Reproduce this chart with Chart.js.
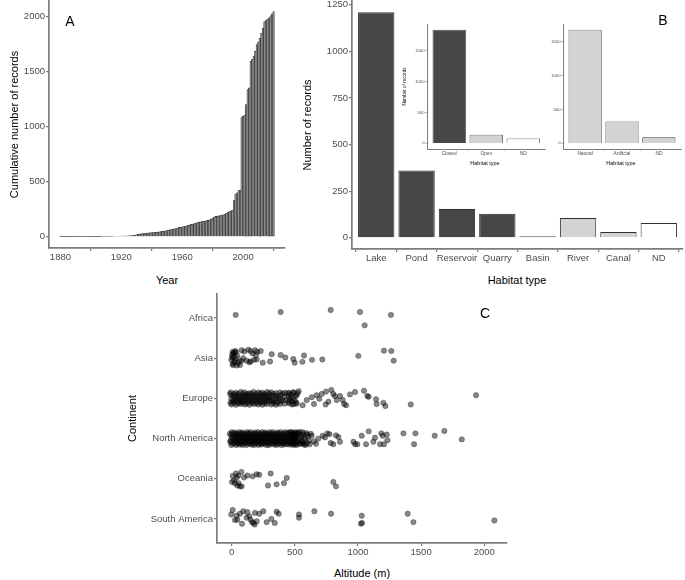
<!DOCTYPE html>
<html lang="en">
<head>
<meta charset="UTF-8">
<title>Records overview</title>
<script src="https://cdn.jsdelivr.net/npm/chart.js"></script>
<style>
  body { margin: 0; background: #fff; }
  #fig { position: relative; width: 685px; height: 580px; background: #fff; overflow: hidden;
         font-family: "Liberation Sans", Arial, sans-serif; }
  #fig canvas { position: absolute; }
  .lbl { position: absolute; white-space: nowrap; color: #000; line-height: 1;
         transform: translate(-50%, -50%); }
</style>
</head>
<body>
<div id="fig">
  <canvas id="chartA" width="290" height="265" style="left:0;top:0"></canvas>
  <canvas id="chartB" width="385" height="265" style="left:300px;top:0"></canvas>
  <canvas id="inset1" width="155" height="140" style="left:395px;top:18px"></canvas>
  <canvas id="inset2" width="145" height="140" style="left:540px;top:18px"></canvas>
  <canvas id="chartC" width="415" height="270" style="left:100px;top:290px"></canvas>

  <div class="lbl" style="left:167px;top:280px;font-size:11px">Year</div>
  <div class="lbl" style="left:70px;top:21px;font-size:14px">A</div>

  <div class="lbl" style="left:517px;top:280px;font-size:11px">Habitat type</div>
  <div class="lbl" style="left:663px;top:20px;font-size:14px">B</div>
  <div class="lbl" style="left:485px;top:164px;font-size:5.5px">Habitat type</div>
  <div class="lbl" style="left:621px;top:164px;font-size:5.5px">Habitat type</div>

  <div class="lbl" style="left:362px;top:573px;font-size:11px">Altitude (m)</div>
  <div class="lbl" style="left:485px;top:313px;font-size:14px">C</div>
</div>

<script>
// ---- panel A: cumulative records per year (1880 - 2020)
const startYear = 1880;
const cumulativeRecords = [
  1, 1, 1, 1, 1, 1, 1, 1, 1, 1,
  1, 1, 1, 1, 1, 1, 1, 1, 1, 1,
  1, 1, 1, 1, 1, 1, 1, 3, 3, 3,
  3, 4, 4, 4, 4, 5, 5, 5, 5, 5,
  6, 6, 7, 7, 8, 8, 9, 10, 11, 14,
  18, 22, 25, 27, 29, 30, 31, 33, 35, 36,
  37, 38, 40, 42, 43, 45, 47, 49, 52, 55,
  57, 60, 63, 66, 69, 72, 74, 78, 85, 88,
  90, 93, 96, 100, 104, 108, 112, 116, 120, 125,
  128, 132, 135, 137, 140, 143, 146, 150, 155, 160,
  168, 178, 185, 187, 190, 192, 196, 200, 205, 215,
  222, 230, 236, 240, 328, 385, 400, 419, 425, 1082,
  1097, 1105, 1202, 1338, 1353, 1594, 1615, 1640, 1684, 1745,
  1770, 1805, 1850, 1896, 1956, 1965, 1977, 1990, 2007, 2025, 2046
];
const yearTicks = [1880, 1920, 1960, 2000];
const cumulativeTicks = [0, 500, 1000, 1500, 2000];

// ---- panel B: habitat types
const habitats = ['Lake', 'Pond', 'Reservoir', 'Quarry', 'Basin', 'River', 'Canal', 'ND'];
const habitatCounts = [1210, 361, 154, 129, 8, 106, 31, 79];
const habitatTicks = [0, 250, 500, 750, 1000, 1250];

const enclosure = ['Closed', 'Open', 'ND'];
const enclosureCounts = [1845, 139, 79];
const origin = ['Natural', 'Artificial', 'ND'];
const originCounts = [1676, 322, 88];
const insetTicks = [0, 500, 1000, 1500];

// ---- panel C: altitude per continent, [altitude m, vertical jitter]
const continents = ['Africa', 'Asia', 'Europe', 'North America', 'Oceania', 'South America'];
const altitudeTicks = [0, 500, 1000, 1500, 2000];

const africaPts = [[32,-0.08],[388,-0.15],[784,-0.2],[1016,-0.15],[1261,-0.08],[1053,0.18]];

const asiaPts = [
  [8,-0.16],[18,-0.14],[29,-0.18],[3,-0.08],[13,-0.04],[-3,0.04],[24,0.06],[8,0.14],[40,0.18],
  [61,0.08],[45,-0.06],[79,-0.2],[132,-0.21],[150,-0.18],[185,-0.2],[203,-0.16],[193,-0.08],
  [166,-0.12],[119,0.06],[79,0.06],[150,0.08],[177,0.04],[198,0.03],[246,0.11],[304,0.08],
  [317,-0.1],[388,-0.08],[425,-0.02],[488,0.02],[499,0.11],[560,0.09],[573,-0.07],[636,0.04],
  [718,0.03],[1003,-0.06],[1206,-0.19],[1264,-0.18],[1283,0.06],[66,0.17],[34,0],[92,0],
  [15,-0.12],[5,-0.02],[20,0.1],[10,0.17],[35,-0.15],[50,0.12],[100,-0.17],[140,0.1],[230,-0.18]
];

const europePts = [
  [-8,-0.15],[3,-0.07],[-4,0.01],[6,0.08],[-2,0.15],
  [33,-0.14],[38,-0.08],[31,0.02],[37,0.07],[34,0.16],
  [72,-0.16],[67,-0.06],[74,0],[69,0.09],[71,0.14],
  [103,-0.15],[108,-0.08],[101,0.01],[107,0.07],[104,0.15],
  [142,-0.13],[137,-0.07],[144,-0.01],[139,0.08],[141,0.16],
  [173,-0.16],[178,-0.07],[171,0.02],[177,0.07],[174,0.14],
  [212,-0.15],[207,-0.06],[214,0],[209,0.09],[211,0.15],
  [243,-0.14],[248,-0.08],[241,0.01],[247,0.07],[244,0.16],
  [282,-0.16],[277,-0.07],[284,-0.01],[279,0.08],[281,0.14],
  [313,-0.15],[318,-0.07],[311,0.02],[317,0.07],[314,0.15],
  [352,-0.13],[347,-0.06],[354,0],[349,0.09],[351,0.16],
  [383,-0.15],[388,-0.08],[381,0.01],[387,0.07],[384,0.14],
  [422,-0.14],[418,-0.04],[425,0.04],[420,0.13],
  [-12,-0.11],[-10,0.11],
  [17,-0.11],[20,-0.04],[15,0.04],[19,0.11],
  [52,-0.11],[50,-0.03],[54,0.04],[51,0.12],
  [87,-0.12],[90,-0.04],[85,0.05],[88,0.11],
  [122,-0.11],[120,-0.03],[124,0.04],[121,0.12],
  [157,-0.12],[160,-0.04],[155,0.05],[158,0.11],
  [192,-0.11],[190,-0.03],[194,0.04],[191,0.12],
  [227,-0.12],[230,-0.04],[225,0.05],[228,0.11],
  [262,-0.11],[260,-0.03],[264,0.04],[261,0.12],
  [297,-0.12],[300,-0.04],[295,0.05],
  [332,-0.11],[334,0.04],[330,0.12],
  [367,-0.04],[365,0.11],
  [402,-0.12],[404,0.05],
  [455,-0.14],[452,-0.06],[458,0.03],[454,0.12],[470,-0.1],[473,0.07],[488,-0.15],[485,0],
  [492,0.14],[505,-0.06],[510,0.1],[522,-0.13],
  [445,-0.12],[452,0.08],[468,-0.02],[478,0.15],[490,-0.15],[500,0.05],[515,-0.08],
  [531,-0.18],[515,0.13],[562,0.17],[594,0.04],[634,-0.03],[652,0.14],[673,-0.08],[694,0.01],
  [713,-0.11],[747,-0.17],[744,0.15],[766,0.08],[789,-0.21],[805,-0.11],[818,-0.06],[832,0.04],
  [858,-0.06],[879,0.04],[890,0.14],[906,0.17],[937,-0.1],[977,-0.16],[1048,-0.19],[1074,-0.06],
  [1085,-0.04],[1143,0.02],[1148,0.14],[1201,0.11],[1217,0.19],[1418,0.15],[1935,-0.08]
];

const northAmericaPts = [
  [2,-0.16],[-5,-0.09],[4,-0.03],[-8,0.04],[1,0.1],[-3,0.16],
  [28,-0.15],[34,-0.1],[26,-0.04],[33,0.03],[29,0.09],[35,0.16],
  [62,-0.16],[57,-0.1],[64,-0.03],[58,0.04],[63,0.1],[60,0.15],
  [88,-0.15],[93,-0.09],[87,-0.02],[94,0.03],[90,0.1],[86,0.16],
  [122,-0.16],[117,-0.1],[124,-0.04],[119,0.03],[123,0.09],[116,0.16],
  [148,-0.16],[153,-0.09],[146,-0.03],[152,0.04],[149,0.1],[155,0.15],
  [182,-0.15],[177,-0.1],[184,-0.02],[179,0.03],[183,0.1],[176,0.16],
  [208,-0.16],[213,-0.1],[206,-0.03],[214,0.04],[209,0.09],[212,0.16],
  [242,-0.16],[237,-0.09],[244,-0.04],[239,0.03],[243,0.1],[236,0.15],
  [268,-0.15],[273,-0.1],[266,-0.02],[272,0.04],[269,0.1],[274,0.16],
  [302,-0.16],[297,-0.1],[304,-0.03],[299,0.03],[303,0.09],[296,0.16],
  [328,-0.16],[333,-0.09],[326,-0.04],[332,0.04],[329,0.1],[334,0.15],
  [362,-0.15],[357,-0.1],[364,-0.03],[359,0.03],[363,0.1],[356,0.16],
  [388,-0.16],[393,-0.09],[386,-0.02],[392,0.04],[389,0.1],[394,0.16],
  [422,-0.16],[417,-0.1],[424,-0.03],[419,0.03],[423,0.09],[416,0.15],
  [448,-0.15],[453,-0.07],[446,0.01],[452,0.08],[449,0.15],
  [478,-0.16],[483,-0.09],[476,-0.03],[484,0.04],[479,0.1],[482,0.16],
  [508,-0.16],[513,-0.1],[506,-0.02],[512,0.04],[509,0.1],[514,0.16],
  [-14,-0.12],[-12,0.08],
  [15,-0.13],[18,-0.06],[13,0],[17,0.06],[14,0.13],
  [45,-0.12],[43,-0.06],[47,0.01],[44,0.07],[46,0.12],
  [75,-0.13],[78,-0.05],[73,0],[77,0.06],[74,0.13],
  [105,-0.12],[103,-0.06],[107,0.01],[104,0.07],[106,0.12],
  [135,-0.13],[138,-0.05],[133,0],[137,0.06],[134,0.13],
  [165,-0.12],[163,-0.06],[167,0.01],[164,0.07],[166,0.12],
  [195,-0.13],[198,-0.05],[193,0],[197,0.06],[194,0.13],
  [225,-0.12],[223,-0.06],[227,0.01],[224,0.07],[226,0.12],
  [255,-0.13],[258,-0.05],[253,0],[257,0.06],[254,0.13],
  [285,-0.12],[283,-0.06],[287,0.01],[284,0.07],[286,0.12],
  [315,-0.13],[318,-0.05],[313,0],[317,0.06],[314,0.13],
  [345,-0.12],[343,-0.06],[347,0.01],[344,0.07],[346,0.12],
  [375,-0.13],[378,-0.05],[373,0],[377,0.06],[374,0.13],
  [405,-0.12],[403,-0.06],[407,0.01],[404,0.07],[406,0.12],
  [435,-0.13],[438,-0.05],[433,0],[437,0.06],[434,0.13],
  [463,-0.13],[468,-0.05],[461,0.01],[467,0.07],[464,0.13],
  [495,-0.12],[493,-0.06],[497,0.01],[494,0.07],[496,0.12],
  [465,-0.16],[470,-0.04],[476,0.12],[482,-0.1],[488,0.05],[495,-0.14],[500,0.15],[505,0.02],
  [525,-0.12],[532,0.06],[540,-0.16],[546,0.13],[553,-0.04],[560,0.09],[566,-0.11],[574,0.15],
  [580,0.02],[590,-0.14],[597,0.11],[605,-0.05],[618,0.14],[626,-0.12],
  [512,-0.07],[518,0.11],[525,-0.15],[530,0],[538,0.13],[545,-0.08],[552,0.07],[560,-0.16],
  [568,0.12],[575,-0.02],[585,0.16],[598,-0.1],[612,0.05],
  [634,-0.07],[652,0.07],[668,0.13],[686,0],[721,-0.07],[739,-0.03],[758,-0.13],[774,-0.11],
  [784,0.11],[805,0.14],[826,-0.08],[845,-0.04],[858,0.08],[964,0.08],[977,0.14],[995,0.14],
  [1030,-0.07],[1064,0.14],[1085,-0.18],[1122,0.08],[1135,-0.02],[1175,0.14],[1185,-0.13],
  [1196,-0.07],[1206,0.14],[1228,-0.1],[1233,0.04],[1360,-0.13],[1444,0.14],[1455,-0.13],
  [1608,-0.07],[1684,-0.19],[1822,0.02]
];

const oceaniaPts = [
  [8,-0.07],[18,0.04],[34,-0.13],[40,-0.03],[3,0.08],[45,0.17],[55,0.11],[66,0.19],[77,-0.17],
  [98,-0.03],[124,-0.08],[166,-0.06],[198,-0.11],[219,-0.1],[309,-0.13],[288,0.17],[356,0.14],
  [414,0.11],[436,-0.02],[805,0.08],[826,0.19],[26,0.11],[53,-0.08],[79,0.19]
];

const southAmericaPts = [
  [8,-0.22],[-3,-0.11],[26,0.03],[40,-0.08],[66,-0.13],[82,0.12],[92,-0.19],[124,-0.17],
  [140,-0.07],[150,0.02],[161,0.08],[172,0.1],[182,0.14],[185,-0.15],[219,-0.13],[251,-0.19],
  [277,0.08],[314,0],[341,0.1],[356,-0.18],[372,-0.13],[533,-0.11],[533,-0.03],[655,-0.19],
  [787,-0.13],[1030,-0.08],[1032,0.1],[1024,0.12],[1394,-0.13],[1439,0.08],[2080,0.04],
  [45,0.02],[119,-0.03],[198,0.06]
];

// ---- shared styling
const FONT = '"Liberation Sans", Arial, sans-serif';
const TICK_COLOR = '#4d4d4d';
const AXIS_COLOR = '#7c7c7c';

function fixedTicks(values) {
  return function (scale) { scale.ticks = values.map(v => ({ value: v })); };
}

function axis(opts) {
  // theme_classic-ish axis: line + short tick marks, no grid
  return {
    type: 'linear',
    min: opts.min,
    max: opts.max,
    reverse: !!opts.reverse,
    offset: false,
    afterBuildTicks: fixedTicks(opts.ticks),
    afterFit: s => {
      opts.fit(s);
      // keep the plot area exactly where the layout padding puts it
      s.paddingTop = s.paddingBottom = s.paddingLeft = s.paddingRight = 0;
    },
    title: opts.title ? {
      display: true, text: opts.title, color: '#000',
      font: { family: FONT, size: opts.titleSize || 11 },
      padding: { top: opts.titlePad, bottom: 0 }
    } : { display: false },
    border: { display: true, color: AXIS_COLOR, width: opts.lineWidth || 1.7 },
    grid: { display: true, drawOnChartArea: false, drawTicks: true,
            tickLength: opts.tickLength || 3, color: AXIS_COLOR, lineWidth: opts.tickWidth || 1.2 },
    ticks: {
      color: TICK_COLOR, padding: opts.padding === undefined ? 1 : opts.padding,
      autoSkip: false, maxRotation: 0, minRotation: 0,
      font: { family: FONT, size: opts.fontSize || 9.5 },
      callback: opts.label || (v => String(v))
    }
  };
}

const baseOptions = {
  responsive: false,
  maintainAspectRatio: false,
  animation: false,
  devicePixelRatio: 1,
  plugins: { legend: { display: false }, tooltip: { enabled: false } }
};

// ---- panel A
new Chart(document.getElementById('chartA'), {
  type: 'bar',
  data: {
    datasets: [{
      data: cumulativeRecords.map((v, i) => ({ x: startYear + i, y: v })),
      backgroundColor: '#8e8e8e',
      borderColor: '#1f1f1f',
      borderWidth: 0.55,
      barPercentage: 1,
      categoryPercentage: 1
    }]
  },
  options: Object.assign({}, baseOptions, {
    layout: { autoPadding: false, padding: { left: 0, top: 1, right: 5, bottom: 0 } },
    scales: {
      x: axis({ min: 1872.5, max: 2027.5, ticks: yearTicks, fit: s => { s.height = 17; } }),
      y: axis({ min: -102, max: 2142, ticks: cumulativeTicks, fit: s => { s.width = 49; },
                title: 'Cumulative number of records', titlePad: 8.4 })
    }
  })
});

// ---- panel B
const habitatFill = ['#474747', '#474747', '#474747', '#474747', '#474747', '#d3d3d3', '#d3d3d3', '#ffffff'];
new Chart(document.getElementById('chartB'), {
  type: 'bar',
  data: {
    datasets: [{
      data: habitatCounts.map((v, i) => ({ x: i + 1, y: v })),
      backgroundColor: habitatFill,
      borderColor: '#2e2e2e',
      borderWidth: 1,
      barPercentage: 0.9,
      categoryPercentage: 1
    }]
  },
  options: Object.assign({}, baseOptions, {
    layout: { autoPadding: false, padding: { left: 0, top: 1, right: 2, bottom: 0 } },
    scales: {
      x: axis({ min: 0.4, max: habitats.length + 0.6, ticks: habitats.map((h, i) => i + 1),
                label: v => habitats[v - 1], fit: s => { s.height = 16; } }),
      y: axis({ min: -60.5, max: 1270.5, ticks: habitatTicks, fit: s => { s.width = 52; },
                title: 'Number of records', titlePad: 1.4 })
    }
  })
});

function insetChart(id, names, counts, fills, yMax, yWidth, padRight, yTitle) {
  new Chart(document.getElementById(id), {
    type: 'bar',
    data: {
      datasets: [{
        data: counts.map((v, i) => ({ x: i + 1, y: v })),
        backgroundColor: fills,
        borderColor: '#3a3a3a',
        borderWidth: 0.8,
        barPercentage: 0.9,
        categoryPercentage: 1
      }]
    },
    options: Object.assign({}, baseOptions, {
      layout: { autoPadding: false, padding: { left: 0, top: 6, right: padRight, bottom: 0 } },
      scales: {
        x: axis({ min: 0.4, max: names.length + 0.6, ticks: names.map((n, i) => i + 1),
                  label: v => names[v - 1], fit: s => { s.height = 9; }, fontSize: 4.8,
                  tickLength: 1.5, padding: 0, lineWidth: 1, tickWidth: 0.7 }),
        y: axis({ min: -yMax * 0.05, max: yMax * 1.05, ticks: insetTicks, fit: s => { s.width = yWidth; },
                  fontSize: 4.2, tickLength: 1.5, padding: 1, lineWidth: 1, tickWidth: 0.7,
                  title: yTitle, titleSize: 4.6, titlePad: 7.2 })
      }
    })
  });
}
insetChart('inset1', enclosure, enclosureCounts, ['#474747', '#d3d3d3', '#ffffff'], 1845, 32, 4.5, 'Number of records');
insetChart('inset2', origin, originCounts, ['#d3d3d3', '#d3d3d3', '#d3d3d3'], 1676, 23, 4, null);

// ---- panel C
const groups = [africaPts, asiaPts, europePts, northAmericaPts, oceaniaPts, southAmericaPts];
new Chart(document.getElementById('chartC'), {
  type: 'scatter',
  data: {
    datasets: groups.map((pts, idx) => ({
      data: pts.map(p => ({ x: p[0], y: idx + p[1] })),
      pointRadius: 2.7,
      pointBackgroundColor: 'rgba(0,0,0,0.47)',
      pointBorderColor: 'rgba(0,0,0,0.55)',
      pointBorderWidth: 0.5
    }))
  },
  options: Object.assign({}, baseOptions, {
    layout: { autoPadding: false, padding: { left: 0, top: 4, right: 8, bottom: 0 } },
    scales: {
      x: axis({ min: -116, max: 2180, ticks: altitudeTicks, fit: s => { s.height = 17; } }),
      y: axis({ min: -0.6, max: continents.length - 0.4, reverse: true,
                ticks: continents.map((c, i) => i), label: v => continents[v],
                fit: s => { s.width = 117; }, title: 'Continent', titlePad: 26.4 })
    }
  })
});
</script>
</body>
</html>
